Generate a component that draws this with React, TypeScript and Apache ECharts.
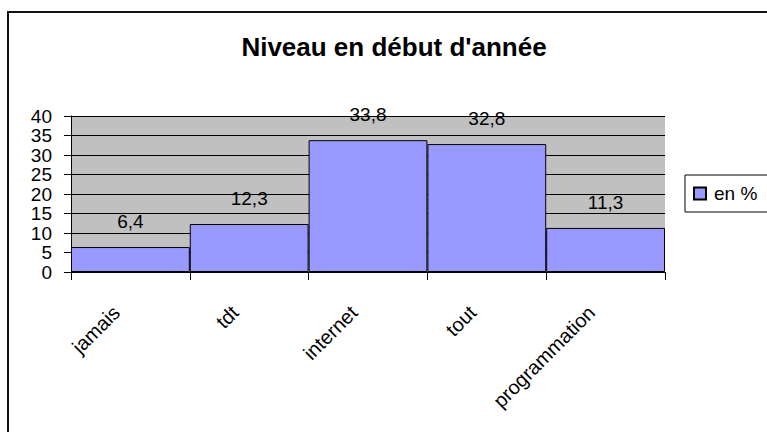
import React, { useEffect, useRef } from "react";
import * as echarts from "echarts";

const titleText = "Niveau en début d'année";
const categories = ["jamais", "tdt", "internet", "tout", "programmation"];
const seriesName = "en %";
const values = [6.4, 12.3, 33.8, 32.8, 11.3];
const yTicks = { min: 0, max: 40, interval: 5 };

const FONT = "'Liberation Sans', Arial, sans-serif";

export default function App() {
  const ref = useRef<HTMLDivElement>(null);
  useEffect(() => {
    if (!ref.current) return;
    const chart = echarts.init(ref.current, undefined, { renderer: "svg" });
    chart.setOption({
      animation: false,
      backgroundColor: "#ffffff",
      textStyle: { fontFamily: FONT, color: "#000" },
      title: {
        text: titleText,
        left: 389,
        textAlign: "center",
        top: 29,
        textStyle: { fontFamily: FONT, fontSize: 26, fontWeight: "bold", color: "#000" },
      },
      legend: {
        left: 685,
        top: 175,
        orient: "vertical",
        padding: [9, 30, 9, 8],
        borderColor: "#000",
        borderWidth: 1,
        backgroundColor: "#fff",
        itemWidth: 12,
        itemHeight: 12,
        icon: "rect",
        textStyle: { fontFamily: FONT, fontSize: 19, color: "#000", padding: [0, 0, 0, 3] },
        data: [seriesName],
      },
      graphic: [
        {
          type: "rect",
          shape: { x: 8, y: 12, width: 820, height: 500 },
          style: { fill: "none", stroke: "#111", lineWidth: 2 },
          silent: true,
          z: 100,
        },
      ],
      grid: {
        left: 71,
        right: 102,
        top: 116,
        bottom: 160,
        show: true,
        backgroundColor: "#c0c0c0",
        borderWidth: 0,
        containLabel: false,
      },
      xAxis: {
        type: "category",
        data: categories,
        axisLine: { show: true, lineStyle: { color: "#000", width: 1 } },
        axisTick: { show: true, length: 8, lineStyle: { color: "#000" } },
        axisLabel: {
          interval: 0,
          rotate: 45,
          margin: 23,
          padding: [0, 20, 0, 0],
          fontFamily: FONT,
          fontSize: 20,
          color: "#000",
        },
        splitLine: { show: false },
      },
      yAxis: {
        type: "value",
        min: yTicks.min,
        max: yTicks.max,
        interval: yTicks.interval,
        axisLine: { show: true, lineStyle: { color: "#000", width: 1 } },
        axisTick: { show: true, length: 7, lineStyle: { color: "#000" } },
        axisLabel: { margin: 19, fontFamily: FONT, fontSize: 19, color: "#000" },
        splitLine: { show: true, lineStyle: { color: "#000", width: 1 } },
      },
      series: [
        {
          name: seriesName,
          type: "bar",
          data: values,
          barCategoryGap: "0%",
          itemStyle: { color: "#9999ff", borderColor: "#000", borderWidth: 1 },
          label: {
            show: true,
            position: "top",
            distance: 16,
            fontFamily: FONT,
            fontSize: 19,
            color: "#000",
            formatter: (p: any) => String(p.value).replace(".", ","),
          },
        },
      ],
    });
    return () => chart.dispose();
  }, []);
  return (
    <div
      ref={ref}
      style={{ position: "fixed", left: 0, top: 0, width: 767, height: 432 }}
    />
  );
}
